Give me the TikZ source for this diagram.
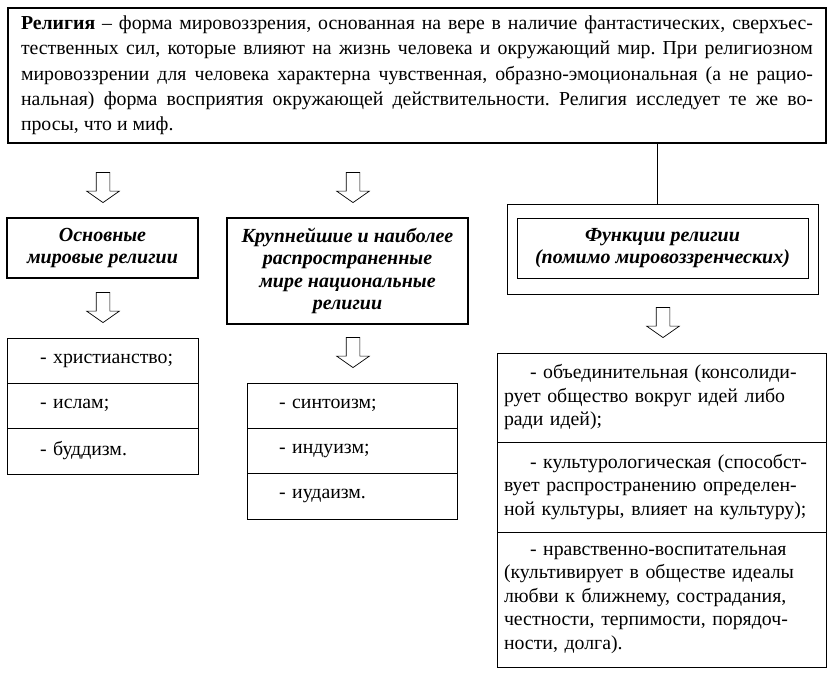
\documentclass[tikz,border=0pt]{standalone}
\usepackage{fontspec}
\setmainfont{Liberation Serif}
\usetikzlibrary{shapes.arrows,positioning}
\frenchspacing
\tikzset{
  box/.style={draw,line width=0.7pt,inner sep=0pt,outer sep=0pt,
              font=\fontsize{19.8}{23.5}\selectfont},
  headbox/.style={box,line width=1.6pt,align=center,
              font=\fontsize{20}{22.5}\selectfont\bfseries\itshape},
  item/.style={box,inner xsep=10pt,align=left},
  down/.style={draw,line width=0.7pt,single arrow,shape border rotate=270,
              minimum height=30pt,inner sep=6.5pt,
              single arrow head extend=9.5pt,single arrow tip angle=110,
              anchor=tip},
}

\begin{document}
\begin{tikzpicture}[x=1pt,y=-1pt]
  \useasboundingbox (0,0) rectangle (834,677);
  % Definition on top, three branches below it.
  \node[box,line width=1.6pt,minimum width=818pt,minimum height=135pt,
        text width=792pt,align=justify,font=\fontsize{19.8}{25.3}\selectfont]
       (rel) at (417,75.5)
       {\textbf{Религия} – форма мировоззрения, основанная на вере в наличие фантастических, сверхъес-\linebreak
        тественных сил, которые влияют на жизнь человека и окружающий мир. При религиозном\linebreak
        мировоззрении для человека характерна чувственная, образно-эмоциональная (а не рацио-\linebreak
        нальная) форма восприятия окружающей действительности. Религия исследует те же во-\linebreak
        просы, что и миф.};

  \node[headbox,minimum width=191pt,minimum height=60pt] (world) at (102.5,248)
       {Основные\\мировые религии};
  \node[headbox,minimum width=241pt,minimum height=106pt] (nat) at (347.5,271)
       {Крупнейшие и наиболее\\распространенные\\мире национальные\\религии};
  \node[box,minimum width=311pt,minimum height=90pt] (fo) at (662.5,249) {};
  \node[headbox,line width=0.9pt,minimum width=291pt,minimum height=60pt]
       (fn) at (662.5,248) {Функции религии\\(помимо мировоззренческих)};
  \draw[line width=0.7pt] ([xshift=-5pt]fo.north) -- ([xshift=-5pt]fo.north |- rel.south);

  \node[down] (a1) at (103,203) {};
  \node[down] (a2) at (353,203) {};
  \node[down] (a3) at (103,323) {};
  \node[down] (a4) at (353,368) {};
  \node[down] (a5) at (663,338) {};

  % World religions
  \node[item,minimum width=191pt,minimum height=45pt,text width=171pt,anchor=north]
       (w1) at (102.5,338) {\hspace*{23pt}- христианство;};
  \node[item,minimum width=191pt,minimum height=45pt,text width=171pt,below=0pt of w1]
       (w2) {\hspace*{23pt}- ислам;};
  \node[item,minimum width=191pt,minimum height=46pt,text width=171pt,below=0pt of w2]
       (w3) {\hspace*{23pt}- буддизм.};

  % National religions
  \node[item,minimum width=210pt,minimum height=45pt,text width=190pt,anchor=north]
       (n1) at (352,383) {\hspace*{22pt}- синтоизм;};
  \node[item,minimum width=210pt,minimum height=45pt,text width=190pt,below=0pt of n1]
       (n2) {\hspace*{22pt}- индуизм;};
  \node[item,minimum width=210pt,minimum height=46pt,text width=190pt,below=0pt of n2]
       (n3) {\hspace*{22pt}- иудаизм.};

  % Functions
  \node[item,inner xsep=7pt,minimum width=329pt,minimum height=89pt,text width=315pt,anchor=north]
       (f1) at (661.5,353)
       {\hspace*{26pt}- объединительная (консолиди-\\рует общество вокруг идей либо\\ради идей);};
  \node[item,inner xsep=7pt,minimum width=329pt,minimum height=90pt,text width=315pt,below=0pt of f1]
       (f2) {\hspace*{26pt}- культурологическая (способст-\\вует распространению определен-\\ной культуры, влияет на культуру);};
  \node[item,inner xsep=7pt,minimum width=329pt,minimum height=135pt,text width=315pt,below=0pt of f2]
       (f3) {\hspace*{26pt}- нравственно-воспитательная\\(культивирует в обществе идеалы\\любви к ближнему, сострадания,\\честности, терпимости, порядоч-\\ности, долга).};
\end{tikzpicture}
\end{document}
